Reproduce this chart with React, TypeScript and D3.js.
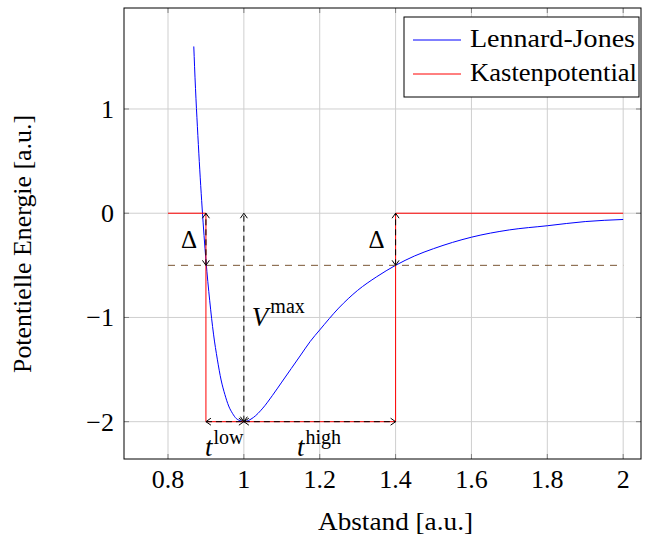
import React from 'react'
import * as d3 from 'd3'

// Lennard-Jones samples
const ljR = [0.868, 0.87, 0.88, 0.89, 0.9, 0.91, 0.92, 0.93, 0.94, 0.95, 0.96, 0.97, 0.98, 0.99, 1.0, 1.025, 1.05, 1.075, 1.1, 1.125, 1.15, 1.175, 1.2, 1.25, 1.3, 1.35, 1.4, 1.45, 1.5, 1.55, 1.6, 1.7, 1.8, 1.9, 2.0]
const ljV = [1.6, 1.41, 0.66, 0.05, -0.45, -0.84, -1.16, -1.4, -1.6, -1.74, -1.85, -1.92, -1.97, -1.99, -2.0, -1.96, -1.87, -1.75, -1.62, -1.49, -1.36, -1.23, -1.12, -0.91, -0.74, -0.61, -0.5, -0.41, -0.34, -0.28, -0.23, -0.16, -0.12, -0.08, -0.06]

// box potential
const boxR = [0.8, 0.9, 0.9, 1.4, 1.4, 2.0]
const boxV = [0, 0, -2, -2, 0, 0]

const xTicks = [0.8, 1, 1.2, 1.4, 1.6, 1.8, 2]
const yTicks = [1, 0, -1, -2]
const legendItems = [
  { label: 'Lennard-Jones', color: '#0000ff', len: 165 },
  { label: 'Kastenpotential', color: '#ff0000', len: 167 },
]

const W = 659
const H = 536
const margin = { top: 8, right: 18, bottom: 77, left: 124 }
const serif = '"Liberation Serif", "DejaVu Serif", serif'

export default function App() {
  const x = d3.scaleLinear().domain([0.684, 2.047]).range([margin.left, W - margin.right])
  const y = d3.scaleLinear().domain([1.969, -2.358]).range([margin.top, H - margin.bottom])
  const x0 = margin.left, x1 = W - margin.right, y0 = margin.top, y1 = H - margin.bottom

  const line = d3.line<number>().x((_, i) => x(ljR[i])).y(d => y(d)).curve(d3.curveMonotoneX)
  const boxLine = d3.line<number>().x((_, i) => x(boxR[i])).y(d => y(d))

  const fmt = (v: number) => (v < 0 ? '\u2212' + Math.abs(v) : String(v))

  return (
    <svg width={W} height={H} style={{ position: 'absolute', left: 0, top: 0, background: '#fff' }}>
      <defs>
        <marker id="arr" viewBox="-8 -5 10 10" markerWidth={10} markerHeight={10} refX={0} refY={0} orient="auto-start-reverse" markerUnits="userSpaceOnUse">
          <path d="M-5,-3.5 L0,0 L-5,3.5" fill="none" stroke="#000" strokeWidth={1} />
        </marker>
        <clipPath id="clip"><rect x={x0} y={y0} width={x1 - x0} height={y1 - y0} /></clipPath>
      </defs>

      {/* grid */}
      {xTicks.map(t => (
        <line key={'gx' + t} x1={x(t)} x2={x(t)} y1={y0} y2={y1} stroke="#cfcfcf" strokeWidth={1} />
      ))}
      {yTicks.map(t => (
        <line key={'gy' + t} x1={x0} x2={x1} y1={y(t)} y2={y(t)} stroke="#cfcfcf" strokeWidth={1} />
      ))}
      {/* ticks */}
      {xTicks.map(t => (
        <g key={'tx' + t} stroke="#808080">
          <line x1={x(t)} x2={x(t)} y1={y1} y2={y1 - 5} />
          <line x1={x(t)} x2={x(t)} y1={y0} y2={y0 + 5} />
        </g>
      ))}
      {yTicks.map(t => (
        <g key={'ty' + t} stroke="#808080">
          <line x1={x0} x2={x0 + 5} y1={y(t)} y2={y(t)} />
          <line x1={x1} x2={x1 - 5} y1={y(t)} y2={y(t)} />
        </g>
      ))}

      <g clipPath="url(#clip)">
        <path d={line(ljV) ?? ''} fill="none" stroke="#0000ff" strokeWidth={1} />
        <path d={boxLine(boxV) ?? ''} fill="none" stroke="#ff0000" strokeWidth={1} />

        {/* dashed helper line at -0.5 */}
        <line x1={x(0.8)} x2={x(2)} y1={y(-0.5)} y2={y(-0.5)} stroke="#7a5634" strokeWidth={1} strokeDasharray="7,6" />

        {/* arrows */}
        <g stroke="#000" strokeWidth={1} strokeDasharray="6,4" fill="none">
          <line x1={x(0.9)} x2={x(0.9)} y1={y(-0.5)} y2={y(0)} markerStart="url(#arr)" markerEnd="url(#arr)" />
          <line x1={x(1.4)} x2={x(1.4)} y1={y(-0.5)} y2={y(0)} markerStart="url(#arr)" markerEnd="url(#arr)" />
          <line x1={x(1)} x2={x(1)} y1={y(-2)} y2={y(0)} markerStart="url(#arr)" markerEnd="url(#arr)" />
          <line x1={x(0.9)} x2={x(1)} y1={y(-2)} y2={y(-2)} markerStart="url(#arr)" markerEnd="url(#arr)" />
          <line x1={x(1)} x2={x(1.4)} y1={y(-2)} y2={y(-2)} markerStart="url(#arr)" markerEnd="url(#arr)" />
        </g>
      </g>

      {/* annotations */}
      <g fontFamily={serif} fill="#000">
        <text x={x(0.9) - 17} y={y(-0.25) + 9} fontSize={25} textAnchor="middle">Δ</text>
        <text x={x(1.4) - 19} y={y(-0.25) + 9} fontSize={25} textAnchor="middle">Δ</text>
        <text x={x(1) + 8} y={326} fontSize={27} fontStyle="italic">V<tspan dx={2} dy={-13} fontSize={20} fontStyle="normal">max</tspan></text>
        <text x={x(0.9) - 1} y={456} fontSize={27} fontStyle="italic">t<tspan dx={1} dy={-12} fontSize={20} fontStyle="normal">low</tspan></text>
        <text x={x(1.14)} y={456} fontSize={27} fontStyle="italic">t<tspan dx={1} dy={-12} fontSize={20} fontStyle="normal">high</tspan></text>
      </g>

      {/* axis box */}
      <rect x={x0} y={y0} width={x1 - x0} height={y1 - y0} fill="none" stroke="#000" strokeWidth={1} />

      {/* tick labels */}
      <g fontFamily={serif} fontSize={26} fill="#000">
        {xTicks.map(t => (
          <text key={'lx' + t} x={x(t)} y={488} textAnchor="middle">{t}</text>
        ))}
        {yTicks.map(t => (
          <text key={'ly' + t} x={x0 - 10} y={y(t) + 9} textAnchor="end">{fmt(t)}</text>
        ))}
        <text x={318} y={530} textLength={155} lengthAdjust="spacingAndGlyphs">Abstand [a.u.]</text>
        <text transform={`translate(31,373) rotate(-90)`} textLength={258} lengthAdjust="spacingAndGlyphs">Potentielle Energie [a.u.]</text>
      </g>

      {/* legend */}
      <g fontFamily={serif} fontSize={26}>
        <rect x={404} y={17} width={235} height={80} fill="#fff" stroke="#000" strokeWidth={1} />
        {legendItems.map((d, i) => (
          <g key={d.label} transform={`translate(404,${40 + i * 34})`}>
            <line x1={9} x2={57} y1={0} y2={0} stroke={d.color} strokeWidth={1} />
            <text x={66} y={7} fill="#000" textLength={d.len} lengthAdjust="spacingAndGlyphs">{d.label}</text>
          </g>
        ))}
      </g>
    </svg>
  )
}
